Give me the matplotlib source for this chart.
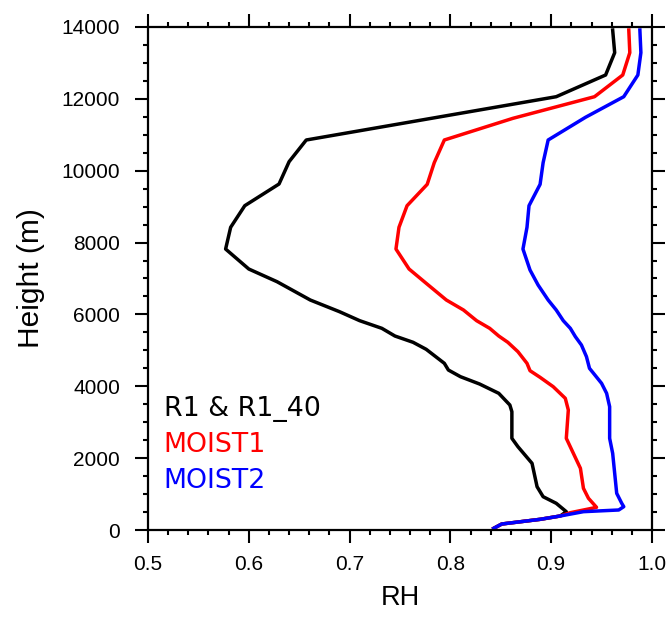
import matplotlib
matplotlib.use('Agg')
from matplotlib import pyplot as plt
from matplotlib.ticker import MultipleLocator

# RH profiles (height in m)
r1_rh = [0.843, 0.851, 0.889, 0.909, 0.915, 0.905, 0.892, 0.886, 0.881, 0.867,
         0.861, 0.861, 0.859, 0.848, 0.829, 0.810, 0.798, 0.794, 0.776, 0.763,
         0.745, 0.732, 0.710, 0.690, 0.661, 0.628, 0.600, 0.577, 0.582, 0.596,
         0.630, 0.640, 0.657, 0.905, 0.954, 0.963, 0.961]
r1_h = [47, 167, 297, 390, 510, 743, 927, 1205, 1856, 2319,
        2552, 3293, 3479, 3804, 4063, 4267, 4453, 4639, 5029, 5224,
        5399, 5613, 5826, 6076, 6401, 6911, 7264, 7820, 8425, 9026,
        9630, 10252, 10855, 12060, 12664, 13285, 13916]

moist1_rh = [0.843, 0.851, 0.889, 0.909, 0.919, 0.945, 0.937, 0.932, 0.929, 0.922,
             0.915, 0.917, 0.914, 0.902, 0.889, 0.879, 0.876, 0.867, 0.857, 0.848,
             0.839, 0.826, 0.813, 0.796, 0.776, 0.759, 0.746, 0.749, 0.757, 0.777,
             0.784, 0.794, 0.862, 0.943, 0.971, 0.978, 0.977]
moist1_h = [47, 167, 297, 390, 482, 631, 882, 1160, 1717, 2134,
            2552, 3340, 3665, 3989, 4249, 4434, 4639, 4963, 5224, 5399,
            5613, 5826, 6123, 6401, 6866, 7264, 7820, 8425, 9026, 9621,
            10224, 10855, 11458, 12060, 12664, 13285, 13916]

moist2_rh = [0.843, 0.851, 0.889, 0.909, 0.932, 0.967, 0.972, 0.970, 0.965, 0.963,
             0.961, 0.958, 0.958, 0.955, 0.950, 0.942, 0.938, 0.935, 0.930, 0.924,
             0.919, 0.912, 0.905, 0.897, 0.887, 0.879, 0.872, 0.876, 0.878, 0.889,
             0.892, 0.897, 0.934, 0.972, 0.986, 0.989, 0.988]
moist2_h = [47, 167, 297, 390, 510, 557, 649, 743, 1021, 1578,
            2134, 2552, 3432, 3804, 4082, 4361, 4500, 4824, 5149, 5381,
            5613, 5826, 6123, 6401, 6819, 7236, 7820, 8425, 9026, 9621,
            10224, 10855, 11486, 12060, 12664, 13285, 13916]

labels = ['R1 & R1_40', 'MOIST1', 'MOIST2']
colors = ['black', 'red', 'blue']

plt.rcParams['font.family'] = ['Liberation Sans', 'DejaVu Sans']

fig = plt.figure(figsize=(6.7, 6.25), dpi=100)
ax = fig.add_axes([0.2209, 0.152, 0.7522, 0.8048])

ax.plot(r1_rh, r1_h, color=colors[0], lw=2.5)
ax.plot(moist1_rh, moist1_h, color=colors[1], lw=2.5)
ax.plot(moist2_rh, moist2_h, color=colors[2], lw=2.5)

ax.set_xlim(0.5, 1.0)
ax.set_ylim(0, 14000)
ax.xaxis.set_minor_locator(MultipleLocator(0.02))
ax.yaxis.set_major_locator(MultipleLocator(2000))
ax.yaxis.set_minor_locator(MultipleLocator(500))
ax.set_xticks([0.5, 0.6, 0.7, 0.8, 0.9, 1.0])
ax.set_xticklabels(['0.5', '0.6', '0.7', '0.8', '0.9', '1.0'])

for s in ax.spines.values():
    s.set_linewidth(1.6)
ax.tick_params(which='both', direction='out', top=True, right=True, width=1.5)
ax.tick_params(which='major', length=9.2, labelsize=15)
ax.tick_params(which='minor', length=3.8)
ax.tick_params(axis='x', which='major', pad=9)
ax.tick_params(axis='y', which='major', pad=11)

ax.set_xlabel('RH', fontsize=19.5, labelpad=8)
ax.set_ylabel('Height (m)', fontsize=21.5, labelpad=12)

for i, (lab, c) in enumerate(zip(labels, colors)):
    ax.text(0.5155, 3173 - i * 1000, lab, color=c, fontsize=19.3,
            family='DejaVu Sans', va='baseline', ha='left')

fig.savefig('out.png', dpi=100)
